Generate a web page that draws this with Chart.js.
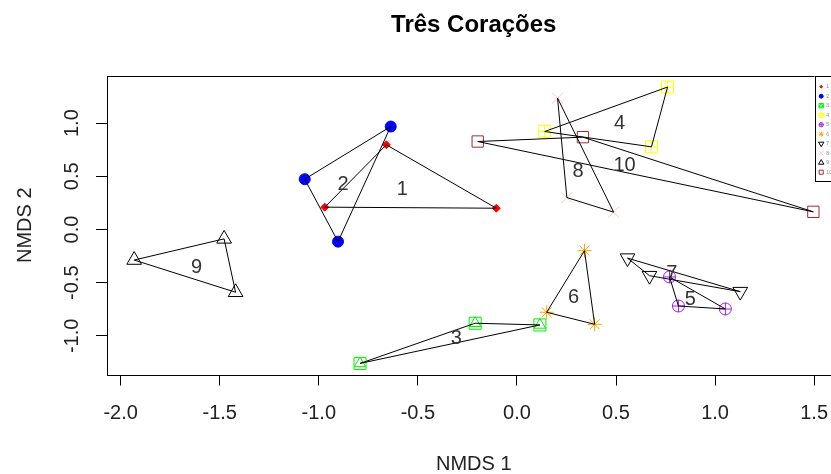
<!DOCTYPE html>
<html><head><meta charset="utf-8">
<script src="https://cdn.jsdelivr.net/npm/chart.js@4.4.0/dist/chart.umd.min.js"></script>
<style>
html,body{margin:0;padding:0;overflow:hidden;background:#fff;width:831px;height:474px}
#wrap{width:850px;height:474px}
</style></head>
<body><div id="wrap"><canvas id="c" width="850" height="474"></canvas></div>
<script>
// ---- data ----
const chartTitle = 'Três Corações';
const xTitle = 'NMDS 1';
const yTitle = 'NMDS 2';
const xTicks = [-2.0, -1.5, -1.0, -0.5, 0.0, 0.5, 1.0, 1.5];
const yTicks = [-1.0, -0.5, 0.0, 0.5, 1.0];
const groupNames = ['1','2','3','4','5','6','7','8','9','10'];
const pts1 = [[-0.659, 0.796], [-0.970, 0.210], [-0.104, 0.200]];
const pts2 = [[-0.637, 0.968], [-1.071, 0.473], [-0.903, -0.114]];
const pts3 = [[-0.792, -1.259], [-0.211, -0.881], [0.116, -0.897]];
const pts4 = [[0.760, 1.339], [0.140, 0.921], [0.679, 0.777]];
const pts5 = [[0.770, -0.446], [0.815, -0.719], [1.052, -0.747]];
const pts6 = [[0.341, -0.199], [0.150, -0.778], [0.392, -0.891]];
const pts7 = [[0.558, -0.269], [0.669, -0.434], [1.127, -0.584]];
const pts8 = [[0.205, 1.235], [0.252, 0.300], [0.488, 0.163]];
const pts9 = [[-1.932, -0.287], [-1.478, -0.088], [-1.420, -0.590]];
const pts10 = [[-0.198, 0.827], [0.333, 0.868], [1.496, 0.166]];
const labelX = [-0.578, -0.877, -0.306, 0.518, 0.875, 0.286, 0.782, 0.308, -1.617, 0.543];
const labelY = [0.379, 0.420, -1.023, 1.000, -0.662, -0.643, -0.411, 0.545, -0.355, 0.599];
const xRange = [-2.069, 1.633];
const yRange = [-1.363, 1.443];

// ---- styles ----
const FONT = '"Liberation Sans", Arial, sans-serif';
const colors = ['#ff0000','#0000ff','#00ee00','#ffff00','#a020f0','#ffa500','#000000','#ffc0cb','#000000','#a52a2a'];
const symbols = [
  [{style:'rectRot', r:4, fill:true}],
  [{style:'circle', r:5.5, fill:true}],
  [{style:'rect', r:8.5}, {style:'triangle', r:6.5}],
  [{style:'rect', r:8.5}, {style:'cross', r:6}],
  [{style:'circle', r:6}, {style:'cross', r:6}],
  [{style:'star', r:7}],
  [{style:'triangle', r:8.5, rot:180}],
  [{style:'crossRot', r:7.8}],
  [{style:'triangle', r:8.5}],
  [{style:'rect', r:8}]
];

const allPts = [pts1, pts2, pts3, pts4, pts5, pts6, pts7, pts8, pts9, pts10];
const datasets = [];
allPts.forEach((p, i) => {
  const data = p.map(([x, y]) => ({x, y}));
  datasets.push({
    label: 'hull ' + groupNames[i], data: data.concat([data[0]]), showLine: true,
    borderColor: '#000', borderWidth: 1, pointRadius: 0, tension: 0, fill: false, order: 0
  });
  symbols[i].forEach(s => datasets.push({
    label: groupNames[i], data: data, showLine: false,
    pointStyle: s.style, pointRadius: s.r, pointRotation: s.rot || 0,
    pointBorderColor: colors[i], pointBorderWidth: 1,
    pointBackgroundColor: s.fill ? colors[i] : 'rgba(0,0,0,0)', order: 1
  }));
});

const customDraw = {
  id: 'customDraw',
  afterDraw(chart) {
    const {ctx, chartArea: a, scales: {x, y}} = chart;
    ctx.save();
    // plot box
    ctx.strokeStyle = '#000'; ctx.lineWidth = 1;
    ctx.strokeRect(Math.round(a.left) + 0.5, Math.round(a.top) + 0.5,
                   Math.round(a.right - a.left), Math.round(a.bottom - a.top));
    // y tick labels (rotated, as in R)
    ctx.font = '20px ' + FONT; ctx.fillStyle = '#222';
    ctx.textAlign = 'center'; ctx.textBaseline = 'middle';
    y.ticks.forEach(t => {
      const py = y.getPixelForValue(t.value);
      ctx.save(); ctx.translate(a.left - 34.5, py); ctx.rotate(-Math.PI / 2);
      ctx.fillText(t.value.toFixed(1), 0, 0); ctx.restore();
    });
    // group labels
    ctx.fillStyle = '#333';
    groupNames.forEach((g, i) => {
      ctx.fillText(g, x.getPixelForValue(labelX[i]), y.getPixelForValue(labelY[i]));
    });
    // legend (top right)
    const lw = 26, lh = 105;
    const lx = a.right - lw, ly = a.top;
    ctx.fillStyle = '#fff'; ctx.fillRect(lx, ly, lw, lh);
    ctx.strokeStyle = '#000'; ctx.lineWidth = 1;
    ctx.strokeRect(Math.round(lx) + 0.5, Math.round(ly) + 0.5, lw, lh);
    groupNames.forEach((g, i) => {
      const cy = ly + 10.7 + i * 9.5, cx = lx + 6.7;
      symbols[i].forEach(s => {
        ctx.strokeStyle = colors[i];
        ctx.fillStyle = s.fill ? colors[i] : 'rgba(0,0,0,0)';
        ctx.lineWidth = 1;
        Chart.helpers.drawPoint(ctx, {pointStyle: s.style, radius: s.r * 0.36, rotation: s.rot || 0, borderWidth: 1}, cx, cy);
      });
      ctx.fillStyle = '#888'; ctx.font = '5px ' + FONT; ctx.textAlign = 'left';
      ctx.fillText(g, cx + 5, cy);
    });
    ctx.restore();
  }
};

Chart.defaults.font.family = FONT;
new Chart(document.getElementById('c'), {
  type: 'scatter',
  data: {datasets},
  options: {
    responsive: false, animation: false, devicePixelRatio: 1,
    layout: {padding: {left: 0, right: 9, top: 0, bottom: 0}},
    plugins: {
      legend: {display: false}, tooltip: {enabled: false},
      title: {display: true, text: chartTitle, fullSize: false, color: '#000',
              font: {family: FONT, size: 24, weight: 'bold', lineHeight: 1.2},
              padding: {top: 10.6, bottom: 36.6}}
    },
    scales: {
      x: {
        type: 'linear', min: xRange[0], max: xRange[1],
        afterBuildTicks: s => { s.ticks = xTicks.map(v => ({value: v})); },
        afterFit: s => { s.height = 99.5; },
        grid: {drawOnChartArea: false, drawTicks: true, tickLength: 11, tickColor: '#000', color: '#000'},
        border: {display: false},
        ticks: {font: {size: 20}, color: '#222', padding: 16, maxRotation: 0, autoSkip: false,
                callback: v => Number(v).toFixed(1)},
        title: {display: true, text: xTitle, color: '#222', font: {size: 20, lineHeight: 1}, padding: 0}
      },
      y: {
        type: 'linear', min: yRange[0], max: yRange[1],
        afterBuildTicks: s => { s.ticks = yTicks.map(v => ({value: v})); },
        afterFit: s => { s.width = 107; },
        grid: {drawOnChartArea: false, drawTicks: true, tickLength: 11, tickColor: '#000', color: '#000'},
        border: {display: false},
        ticks: {font: {size: 20}, color: 'rgba(0,0,0,0)', callback: v => Number(v).toFixed(1)},
        title: {display: true, text: yTitle, color: '#222', font: {size: 20, lineHeight: 1.2}, padding: {top: 13, bottom: 0}}
      }
    }
  },
  plugins: [customDraw]
});
</script>
</body></html>
